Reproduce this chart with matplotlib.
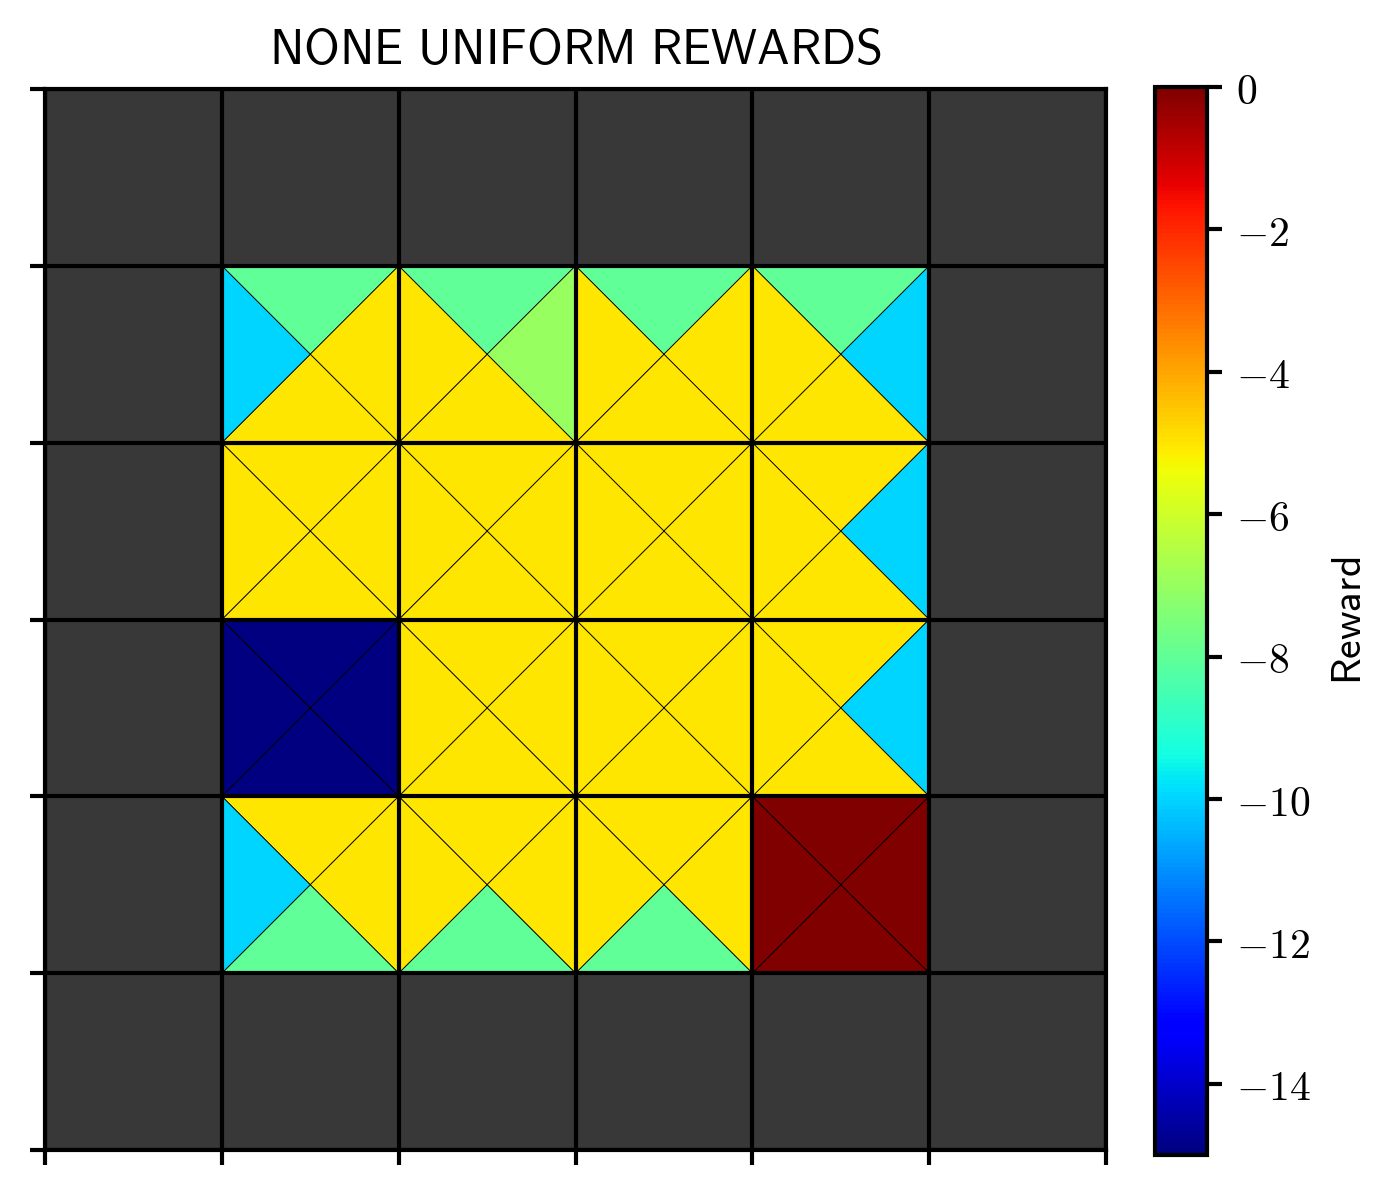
import matplotlib
matplotlib.use("Agg")
import matplotlib.pyplot as plt
import numpy as np
from matplotlib.collections import PolyCollection
from matplotlib.colors import Normalize, ListedColormap
from matplotlib.ticker import FuncFormatter

plt.rcParams['mathtext.fontset'] = 'cm'

# 6x6 grid world, 1 = wall
walls = np.array([
    [1, 1, 1, 1, 1, 1],
    [1, 0, 0, 0, 0, 1],
    [1, 0, 0, 0, 0, 1],
    [1, 0, 0, 0, 0, 1],
    [1, 0, 0, 0, 0, 1],
    [1, 1, 1, 1, 1, 1],
])

# rewards per action (inner 4x4 states, row 0 = top)
reward_up = [
    [-8, -8, -8, -8],
    [-5, -5, -5, -5],
    [-15, -5, -5, -5],
    [-5, -5, -5, 0],
]
reward_right = [
    [-5, -7, -5, -10],
    [-5, -5, -5, -10],
    [-15, -5, -5, -10],
    [-5, -5, -5, 0],
]
reward_down = [
    [-5, -5, -5, -5],
    [-5, -5, -5, -5],
    [-15, -5, -5, -5],
    [-8, -8, -8, 0],
]
reward_left = [
    [-10, -5, -5, -5],
    [-5, -5, -5, -5],
    [-15, -5, -5, -5],
    [-10, -5, -5, 0],
]

vmin, vmax = -15, 0
cbar_ticks = [0, -2, -4, -6, -8, -10, -12, -14]
title = r'$\mathsf{NONE\ UNIFORM\ REWARDS}$'

fig = plt.figure(figsize=(1393 / 300, 1196 / 300), dpi=300)
ax = fig.add_axes([45 / 1393, 1 - 1150 / 1196, (1106 - 45) / 1393, (1150 - 89) / 1196])
cax = fig.add_axes([1155 / 1393, 1 - 1155 / 1196, (1207 - 1155) / 1393, (1155 - 87) / 1196])

n_rows, n_cols = walls.shape

# walls
wall_mask = np.ma.masked_where(walls == 0, walls)
ax.pcolormesh(np.arange(n_cols + 1), np.arange(n_rows + 1), wall_mask,
              cmap=ListedColormap(['#383838']), vmin=0, vmax=1)

# triangles
polys, vals = [], []
for r in range(len(reward_up)):
    for c in range(len(reward_up[0])):
        x, y = c + 1, r + 1
        ctr = (x + 0.5, y + 0.5)
        polys.append([(x, y), (x + 1, y), ctr]); vals.append(reward_up[r][c])
        polys.append([(x + 1, y), (x + 1, y + 1), ctr]); vals.append(reward_right[r][c])
        polys.append([(x, y + 1), (x + 1, y + 1), ctr]); vals.append(reward_down[r][c])
        polys.append([(x, y), (x, y + 1), ctr]); vals.append(reward_left[r][c])

pc = PolyCollection(polys, array=np.array(vals, dtype=float), cmap='jet',
                    norm=Normalize(vmin, vmax), edgecolors='black', linewidths=0.2)
ax.add_collection(pc)

ax.set_xlim(0, n_cols)
ax.set_ylim(n_rows, 0)
ax.set_aspect('auto')
ax.set_xticks(range(n_cols + 1))
ax.set_yticks(range(n_rows + 1))
ax.set_xticklabels([])
ax.set_yticklabels([])
ax.tick_params(length=3.5, width=1)
ax.grid(True, color='black', linewidth=1)
ax.set_axisbelow(False)
for sp in ax.spines.values():
    sp.set_linewidth(1)
ax.set_title(title, fontsize=11.7)

cb = fig.colorbar(pc, cax=cax, ticks=cbar_ticks)
cb.outline.set_linewidth(1)
cb.ax.tick_params(length=3.5, width=1, labelsize=10)
cb.ax.yaxis.set_major_formatter(FuncFormatter(lambda v, p: r'$%d$' % v if v == 0 else r'$-%d$' % abs(v)))
cb.set_label(r'$\mathsf{Reward}$', fontsize=10)

fig.savefig('out.png', dpi=300)
